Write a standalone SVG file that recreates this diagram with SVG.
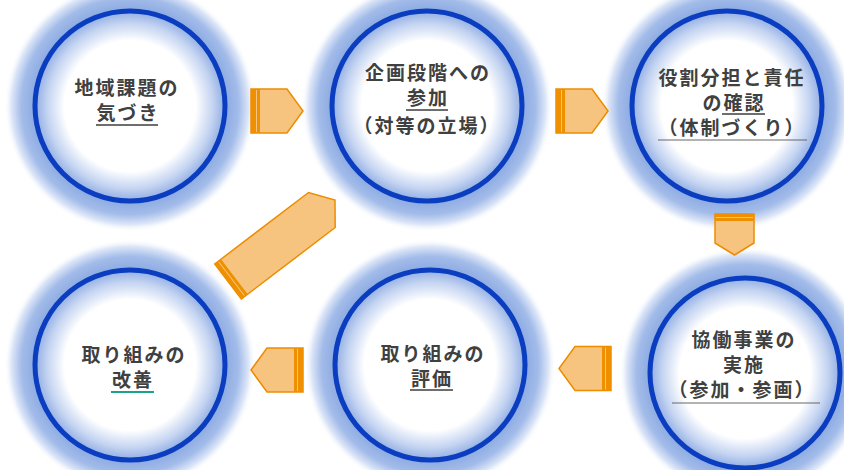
<svg xmlns="http://www.w3.org/2000/svg" width="844" height="470" viewBox="0 0 844 470">
<defs>
<radialGradient id="glow" cx="0.5" cy="0.5" r="0.5">
<stop offset="0" stop-color="#ffffff"/>
<stop offset="0.52" stop-color="#ffffff"/>
<stop offset="0.66" stop-color="#c3d3f1"/>
<stop offset="0.76" stop-color="#8dabe2"/>
<stop offset="0.86" stop-color="#a2bbe9"/>
<stop offset="0.94" stop-color="#dbe5f7"/>
<stop offset="1" stop-color="#ffffff" stop-opacity="0"/>
</radialGradient>
</defs>
<style>
.glow{fill:url(#glow)}
.ring{fill:none;stroke:#0a3dbf;stroke-width:5}
.t{font-family:"Noto Sans CJK JP","Noto Sans CJK SC",sans-serif;font-weight:700;font-size:19px;letter-spacing:2px;fill:#404040;text-anchor:middle}
.ul{stroke:#6e6e6e;stroke-width:1.8}
.ulg{stroke:#1aa38a;stroke-width:1.8}
.ll{stroke:#666666;stroke-width:1}
.ab{fill:#f6c47f;stroke:#ee8c00;stroke-width:1.5;stroke-linejoin:miter}
.as{fill:#ef9000}
.al{fill:#f6c47f}
</style>
<rect width="844" height="470" fill="#ffffff"/>
<g id="glows">
<circle class="glow" cx="130" cy="106" r="126"/>
<circle class="glow" cx="427" cy="106" r="126"/>
<circle class="glow" cx="727" cy="106" r="126"/>
<circle class="glow" cx="130" cy="365" r="126"/>
<circle class="glow" cx="430" cy="365" r="126"/>
<circle class="glow" cx="745" cy="373" r="126"/>
</g>
<g id="connectors">
<g transform="translate(251,111)">
<polygon class="ab" points="0,-22 36,-22 52,0 36,22 0,22"/>
<rect class="as" x="0" y="-22" width="9" height="44"/>
<rect class="al" x="5" y="-21" width="1" height="42"/>
</g>
<g transform="translate(556,111)">
<polygon class="ab" points="0,-22 36,-22 52,0 36,22 0,22"/>
<rect class="as" x="0" y="-22" width="9" height="44"/>
<rect class="al" x="5" y="-21" width="1" height="42"/>
</g>
<g transform="translate(734.5,214) rotate(90)">
<polygon class="ab" points="0,-19.5 29,-19.5 41,0 29,19.5 0,19.5"/>
<rect class="as" x="0" y="-19.5" width="7" height="39"/>
<rect class="al" x="3" y="-18.5" width="1" height="37"/>
</g>
<g transform="translate(228,281.5) rotate(-37.3)">
<polygon class="ab" points="0,-22 118,-22 134.5,0 118,22 0,22"/>
<rect class="as" x="0" y="-22" width="8" height="44"/>
<rect class="al" x="4" y="-21" width="1" height="42"/>
</g>
<g transform="translate(611,368.5) rotate(180)">
<polygon class="ab" points="0,-22 36,-22 52,0 36,22 0,22"/>
<rect class="as" x="0" y="-22" width="9" height="44"/>
<rect class="al" x="5" y="-21" width="1" height="42"/>
</g>
<g transform="translate(303,370) rotate(180)">
<polygon class="ab" points="0,-22 36,-22 52,0 36,22 0,22"/>
<rect class="as" x="0" y="-22" width="9" height="44"/>
<rect class="al" x="5" y="-21" width="1" height="42"/>
</g>
</g>
<g id="node1">
<circle class="ring" cx="130" cy="106" r="95"/>
<text class="t" x="127" y="95">地域課題の</text>
<text class="t" x="128" y="120">気づき</text>
<line class="ul" x1="96" y1="125" x2="158" y2="125"/>
</g>
<g id="node2">
<circle class="ring" cx="427" cy="106" r="95"/>
<text class="t" x="428" y="80">企画段階への</text>
<text class="t" x="428" y="105">参加</text>
<line class="ul" x1="406" y1="110" x2="448" y2="110"/>
<text class="t" x="427" y="133">（対等の立場）</text>
</g>
<g id="node3">
<circle class="ring" cx="727" cy="106" r="95"/>
<text class="t" x="732" y="85">役割分担と責任</text>
<text class="t" x="734" y="110">の確認</text>
<line class="ul" x1="722" y1="114" x2="765" y2="114"/>
<text class="t" x="732" y="135">（体制づくり）</text>
<line class="ll" x1="658" y1="140" x2="807" y2="140"/>
</g>
<g id="node4">
<circle class="ring" cx="130" cy="365" r="95"/>
<text class="t" x="134" y="362">取り組みの</text>
<text class="t" x="133" y="387">改善</text>
<line class="ulg" x1="111" y1="392" x2="154" y2="392"/>
</g>
<g id="node5">
<circle class="ring" cx="430" cy="365" r="95"/>
<text class="t" x="433" y="361">取り組みの</text>
<text class="t" x="432" y="386">評価</text>
<line class="ul" x1="410" y1="390" x2="453" y2="390"/>
</g>
<g id="node6">
<circle class="ring" cx="745" cy="373" r="95"/>
<text class="t" x="744" y="347">協働事業の</text>
<text class="t" x="744" y="372">実施</text>
<text class="t" x="742" y="397">（参加・参画）</text>
<line class="ll" x1="672" y1="403" x2="820" y2="403"/>
</g>
</svg>
